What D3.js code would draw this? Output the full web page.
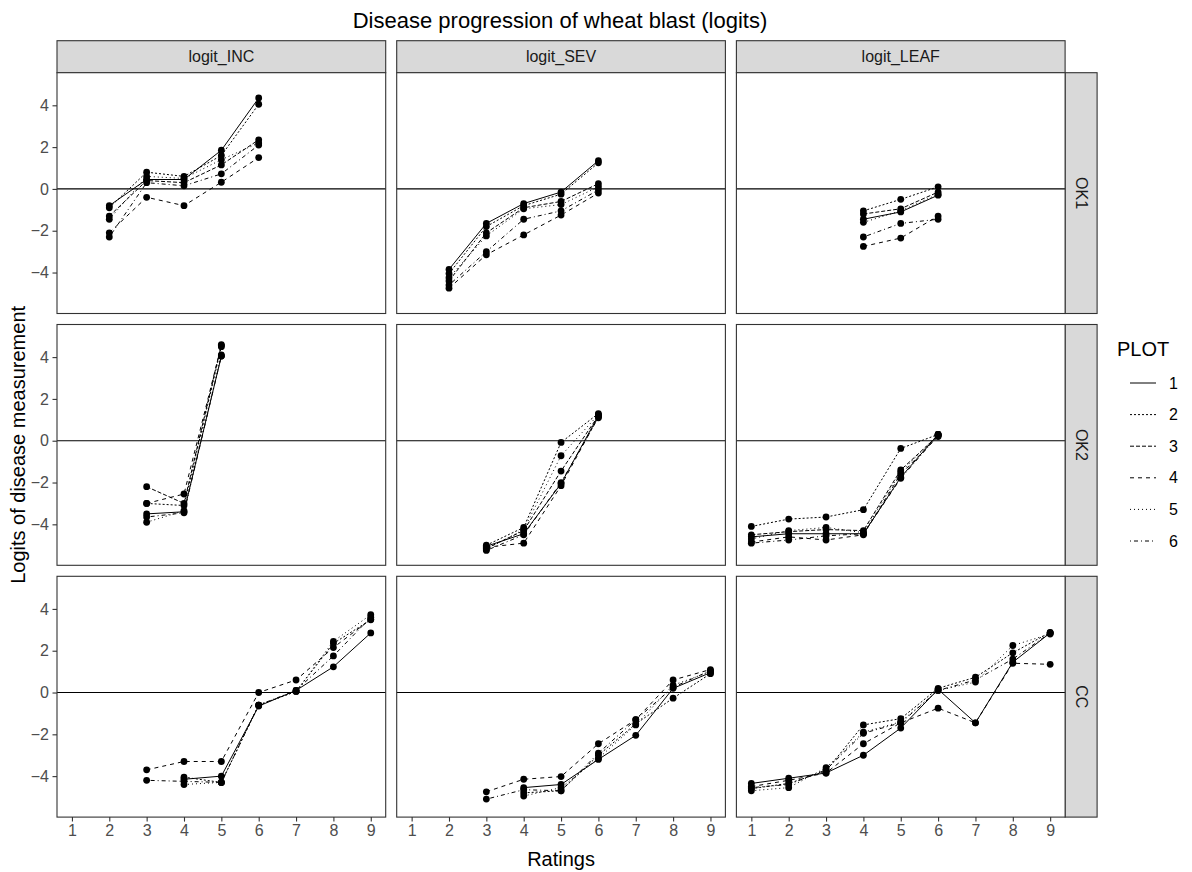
<!DOCTYPE html>
<html>
<head>
<meta charset="utf-8">
<script src="https://cdn.jsdelivr.net/npm/d3@7"></script>
<style>
  html, body { margin: 0; padding: 0; background: #ffffff; }
  svg { display: block; font-family: "Liberation Sans", Arial, sans-serif; }
</style>
</head>
<body>
<svg id="chart" width="1192" height="872"></svg>
<script>
// Facet layout: columns are measures, rows are sites
const measures = ["logit_INC", "logit_SEV", "logit_LEAF"];
const sites = ["OK1", "OK2", "CC"];
const ratings = [1, 2, 3, 4, 5, 6, 7, 8, 9];
const plotIds = ["1", "2", "3", "4", "5", "6"];
const xTicks = [1, 2, 3, 4, 5, 6, 7, 8, 9];
const yTicks = [-4, -2, 0, 2, 4];

// Logit values per plot (rows = PLOT 1..6), columns = ratings 1..9; null = not rated
const ok1Inc = [
  [null, -0.80, 0.45, 0.45, 1.85, 4.35, null, null, null],
  [null, -0.90, 0.80, 0.60, 1.60, 4.05, null, null, null],
  [null, -1.30, 0.40, 0.30, 1.15, 2.35, null, null, null],
  [null, -2.10, -0.40, -0.80, 0.32, 1.50, null, null, null],
  [null, -1.45, 0.60, 0.50, 1.40, 2.20, null, null, null],
  [null, -2.30, 0.30, 0.15, 0.72, 2.10, null, null, null]
];
const ok1Sev = [
  [null, -3.85, -1.65, -0.70, -0.15, 1.35, null, null, null],
  [null, -4.05, -1.80, -0.80, -0.25, 1.25, null, null, null],
  [null, -4.40, -2.10, -0.90, -0.60, 0.25, null, null, null],
  [null, -4.75, -3.15, -2.20, -1.25, -0.20, null, null, null],
  [null, -4.25, -2.25, -0.95, -0.75, 0.10, null, null, null],
  [null, -4.60, -3.00, -1.45, -1.05, -0.05, null, null, null]
];
const ok1Leaf = [
  [null, null, null, -1.45, -1.10, -0.30, null, null, null],
  [null, null, null, -1.05, -0.50, 0.10, null, null, null],
  [null, null, null, -1.20, -0.95, -0.15, null, null, null],
  [null, null, null, -2.75, -2.35, -1.30, null, null, null],
  [null, null, null, -1.60, -1.05, -0.25, null, null, null],
  [null, null, null, -2.30, -1.65, -1.45, null, null, null]
];
const ok2Inc = [
  [null, null, -3.50, -3.40, 4.05, null, null, null, null],
  [null, null, -3.00, -3.10, 4.50, null, null, null, null],
  [null, null, -2.20, -3.00, 4.60, null, null, null, null],
  [null, null, -3.00, -2.55, 4.55, null, null, null, null],
  [null, null, -3.90, -3.35, 4.10, null, null, null, null],
  [null, null, -3.65, -3.45, 4.05, null, null, null, null]
];
const ok2Sev = [
  [null, null, -5.05, -4.45, -2.05, 1.20, null, null, null],
  [null, null, -5.00, -4.15, -0.08, 1.30, null, null, null],
  [null, null, -5.15, -4.30, -1.45, 1.20, null, null, null],
  [null, null, -5.10, -4.90, -2.15, 1.15, null, null, null],
  [null, null, -5.20, -4.25, -0.72, 1.25, null, null, null],
  [null, null, -5.25, -4.50, -2.00, 1.10, null, null, null]
];
const ok2Leaf = [
  [-4.60, -4.45, -4.45, -4.45, -1.75, 0.30, null, null, null],
  [-4.10, -3.75, -3.65, -3.30, -0.37, 0.30, null, null, null],
  [-4.50, -4.35, -4.25, -4.30, -1.40, 0.25, null, null, null],
  [-4.85, -4.60, -4.75, -4.50, -1.60, 0.20, null, null, null],
  [-4.70, -4.30, -4.15, -4.40, -1.50, 0.30, null, null, null],
  [-4.90, -4.75, -4.55, -4.45, -1.80, 0.25, null, null, null]
];
const ccInc = [
  [null, null, null, -4.15, -4.00, -0.65, 0.10, 1.23, 2.85],
  [null, null, null, -4.05, -4.30, -0.60, 0.05, 2.35, 3.48],
  null,
  [null, null, -3.70, -3.30, -3.30, 0.00, 0.60, 2.15, 3.50],
  [null, null, null, -4.40, -4.30, -0.60, 0.05, 2.45, 3.72],
  [null, null, -4.20, -4.25, -4.30, -0.60, 0.10, 1.75, 3.60]
];
const ccSev = [
  [null, null, null, -4.55, -4.40, -3.20, -2.05, 0.20, 0.95],
  [null, null, null, -4.80, -4.70, -3.00, -1.50, -0.27, 0.90],
  null,
  [null, null, -4.75, -4.15, -4.02, -2.45, -1.30, 0.60, 1.10],
  [null, null, null, -4.95, -4.55, -3.15, -1.55, 0.35, 1.00],
  [null, null, -5.10, -4.65, -4.70, -2.90, -1.30, 0.25, 1.05]
];
const ccLeaf = [
  [-4.35, -4.10, -3.85, -3.00, -1.70, 0.15, -1.45, 1.45, 2.85],
  [-4.60, -4.35, -3.75, -1.55, -1.25, 0.20, 0.73, 1.90, 2.88],
  null,
  [-4.50, -4.20, -3.85, -2.45, -1.45, -0.75, -1.45, 1.40, 1.35],
  [-4.70, -4.55, -3.60, -1.90, -1.40, 0.10, 0.50, 2.25, 2.80],
  [-4.55, -4.40, -3.70, -1.95, -1.45, 0.10, 0.60, 1.60, 2.85]
];

// Grid of facet tables: [row][col]
const facetValues = [
  [ok1Inc, ok1Sev, ok1Leaf],
  [ok2Inc, ok2Sev, ok2Leaf],
  [ccInc, ccSev, ccLeaf]
];

// ggplot-style linetypes for PLOT 1..6
const dashPatterns = ["", "2,2", "4,2", "4,4", "1,3", "1,3,4,3"];

const svg = d3.select("#chart");

const panelLeft = 57, panelTop = 72.7;
const panelW = 328.7, panelH = 240.8, gap = 11;
const stripSize = 32;
const ink = "#333333";
const tickFont = 16;

const x = d3.scaleLinear().domain([0.6, 9.4]).range([0, panelW]);
const y = d3.scaleLinear().domain([-5.96, 5.56]).range([panelH, 0]);

const line = d3.line()
  .defined(d => d.v != null)
  .x(d => x(d.r))
  .y(d => y(d.v));

// Title
svg.append("text")
  .attr("x", 560).attr("y", 28)
  .attr("text-anchor", "middle")
  .attr("font-size", 22).attr("fill", "#000")
  .text("Disease progression of wheat blast (logits)");

// Column strips
measures.forEach((m, c) => {
  const x0 = panelLeft + c * (panelW + gap);
  const g = svg.append("g").attr("transform", `translate(${x0},${panelTop - stripSize})`);
  g.append("rect").attr("width", panelW).attr("height", stripSize)
    .attr("fill", "#D9D9D9").attr("stroke", ink).attr("stroke-width", 1.1);
  g.append("text").attr("x", panelW / 2).attr("y", stripSize / 2 + 5.5)
    .attr("text-anchor", "middle").attr("font-size", 16).attr("fill", "#1A1A1A")
    .text(m);
});

// Row strips
sites.forEach((s, r) => {
  const y0 = panelTop + r * (panelH + gap);
  const x0 = panelLeft + 3 * panelW + 2 * gap;
  const g = svg.append("g").attr("transform", `translate(${x0},${y0})`);
  g.append("rect").attr("width", stripSize).attr("height", panelH)
    .attr("fill", "#D9D9D9").attr("stroke", ink).attr("stroke-width", 1.1);
  g.append("text")
    .attr("transform", `translate(${stripSize / 2 - 5.5},${panelH / 2}) rotate(90)`)
    .attr("text-anchor", "middle").attr("font-size", 16).attr("fill", "#1A1A1A")
    .text(s);
});

// Panels
sites.forEach((s, r) => {
  measures.forEach((m, c) => {
    const x0 = panelLeft + c * (panelW + gap);
    const y0 = panelTop + r * (panelH + gap);
    const g = svg.append("g").attr("transform", `translate(${x0},${y0})`);

    g.append("rect").attr("width", panelW).attr("height", panelH).attr("fill", "#fff");

    // reference line at zero
    g.append("line")
      .attr("x1", 0).attr("x2", panelW)
      .attr("y1", y(0)).attr("y2", y(0))
      .attr("stroke", "#000").attr("stroke-width", 1.1);

    const table = facetValues[r][c];
    plotIds.forEach((p, i) => {
      const vals = table[i];
      if (!vals) return;
      const pts = ratings.map((rt, k) => ({ r: rt, v: vals[k] }));
      g.append("path")
        .datum(pts)
        .attr("d", line)
        .attr("fill", "none")
        .attr("stroke", "#000")
        .attr("stroke-width", 1)
        .attr("stroke-dasharray", dashPatterns[i] || null);
      g.selectAll(null)
        .data(pts.filter(d => d.v != null))
        .enter().append("circle")
        .attr("cx", d => x(d.r)).attr("cy", d => y(d.v))
        .attr("r", 3.4).attr("fill", "#000");
    });

    g.append("rect").attr("width", panelW).attr("height", panelH)
      .attr("fill", "none").attr("stroke", ink).attr("stroke-width", 1.1);

    // Y axis on left column
    if (c === 0) {
      const ay = g.append("g").call(d3.axisLeft(y).tickValues(yTicks).tickSize(4.5).tickPadding(3.5).tickFormat(d3.format("d")));
      ay.select(".domain").remove();
      ay.selectAll(".tick line").attr("stroke", ink).attr("stroke-width", 1.1);
      ay.selectAll(".tick text").attr("font-size", tickFont).attr("fill", "#4D4D4D")
        .attr("font-family", "Liberation Sans, Arial, sans-serif");
    }
    // X axis on bottom row
    if (r === sites.length - 1) {
      const ax = g.append("g").attr("transform", `translate(0,${panelH})`)
        .call(d3.axisBottom(x).tickValues(xTicks).tickSize(4.5).tickPadding(3.5).tickFormat(d3.format("d")));
      ax.select(".domain").remove();
      ax.selectAll(".tick line").attr("stroke", ink).attr("stroke-width", 1.1);
      ax.selectAll(".tick text").attr("font-size", tickFont).attr("fill", "#4D4D4D")
        .attr("font-family", "Liberation Sans, Arial, sans-serif");
    }
  });
});

// Axis titles
const panelsMidX = panelLeft + (3 * panelW + 2 * gap) / 2;
const panelsMidY = panelTop + (3 * panelH + 2 * gap) / 2;
svg.append("text")
  .attr("x", panelsMidX).attr("y", 866)
  .attr("text-anchor", "middle").attr("font-size", 20).attr("fill", "#000")
  .text("Ratings");
svg.append("text")
  .attr("transform", `translate(25,${panelsMidY}) rotate(-90)`)
  .attr("text-anchor", "middle").attr("font-size", 20).attr("fill", "#000")
  .text("Logits of disease measurement");

// Legend
const legend = svg.append("g").attr("transform", "translate(1117,0)");
legend.append("text").attr("x", 0).attr("y", 356)
  .attr("font-size", 20).attr("fill", "#000").text("PLOT");
plotIds.forEach((p, i) => {
  const ly = 383 + i * 31.6;
  legend.append("line")
    .attr("x1", 13).attr("x2", 39).attr("y1", ly).attr("y2", ly)
    .attr("stroke", "#000").attr("stroke-width", 1)
    .attr("stroke-dasharray", dashPatterns[i] || null);
  legend.append("text").attr("x", 52).attr("y", ly + 5.5)
    .attr("font-size", 16).attr("fill", "#000").text(p);
});
</script>
</body>
</html>
